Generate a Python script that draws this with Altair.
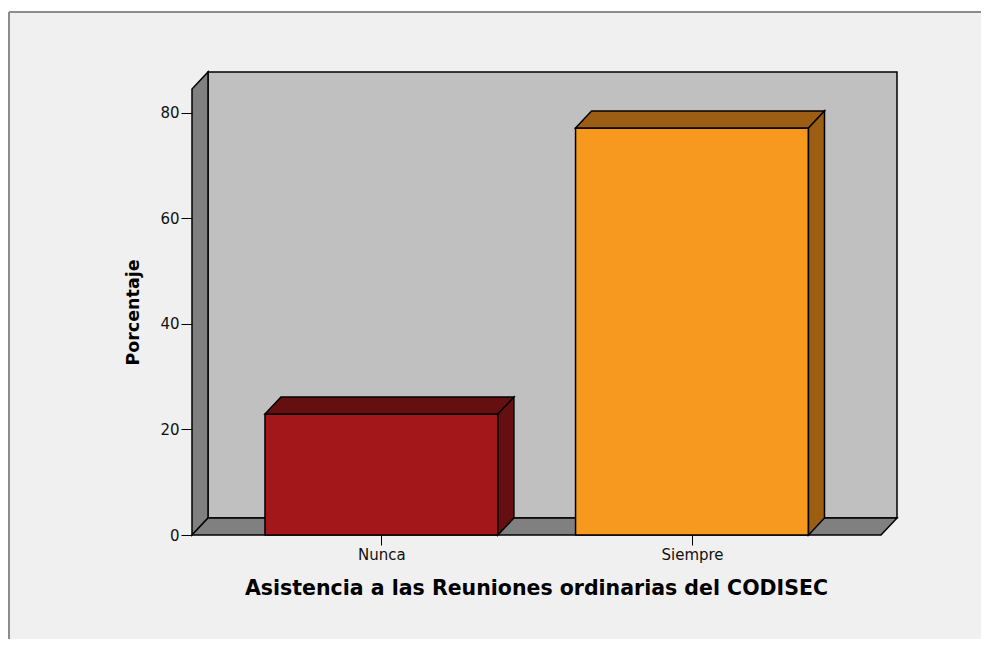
import json
import altair as alt
import pandas as pd

# ---- data ----
cats = ["Nunca", "Siempre"]
pct = [22.9, 77.1]
y_ticks = [0, 20, 40, 60, 80]
front_fill = ["#a3161a", "#f8991f"]
shade_fill = ["#650f11", "#9c5e12"]

# ---- geometry / style constants ----
W, H = 705, 463
X0, X1 = -0.610, 1.660          # x domain in category-index units
PXU = W / (X1 - X0)
YTOP = 87.7                     # y domain top (percentage units)
PYU = H / YTOP
BW = 0.375                      # half bar width (index units)
DX = 16 / PXU                   # depth offset
DY = 17 / PYU
YF = YTOP - DY
SW = 1.5

font = "DejaVu Sans"

wall_rows = []
def add(rows, face, pts, fill):
    for x, lo, hi in pts:
        rows.append(dict(face=face, px=x, lo=lo, hi=hi, col=fill))

add(wall_rows, "a_back", [(X0 + DX, DY, YF + DY), (X1, DY, YF + DY)], "#c0c0c0")
add(wall_rows, "b_left", [(X0, 0, YF), (X0 + DX, DY, YF + DY)], "#808080")
add(wall_rows, "c_floor", [(X0, 0, 0), (X0 + DX, 0, DY), (X1 - DX, 0, DY), (X1, DY, DY)], "#808080")
walls = pd.DataFrame(wall_rows)

front = pd.DataFrame({
    "cat": cats,
    "px": [i - BW for i in range(len(cats))],
    "px2": [i + BW for i in range(len(cats))],
    "v": pct,
    "col": front_fill,
})

shade_rows = []
for i, (c, v) in enumerate(zip(cats, pct)):
    add(shade_rows, f"{c}_top",
        [(i - BW, v, v), (i - BW + DX, v, v + DY), (i + BW, v, v + DY), (i + BW + DX, v + DY, v + DY)],
        shade_fill[i])
    add(shade_rows, f"{c}_side", [(i + BW, 0, v), (i + BW + DX, DY, v + DY)], shade_fill[i])
shades = pd.DataFrame(shade_rows)

xs = alt.Scale(domain=[X0, X1], nice=False, zero=False)
ys = alt.Scale(domain=[0, YTOP], nice=False, zero=False)

x_axis = alt.Axis(
    values=list(range(len(cats))),
    labelExpr=f"{json.dumps(cats)}[datum.value]",
    title="Asistencia a las Reuniones ordinarias del CODISEC",
    tickSize=10, labelPadding=2, domain=False, grid=False, zindex=2,
    labelFont=font, labelFontSize=15, labelColor="#111111", tickColor="black",
    titleFont=font, titleFontSize=20.5, titleFontWeight="bold", titleColor="black",
    titleX=344, titleY=53, titleBaseline="middle",
)
y_axis = alt.Axis(
    values=y_ticks, title="Porcentaje",
    tickSize=11, labelPadding=2, domain=False, grid=False, zindex=2,
    labelFont=font, labelFontSize=15, labelColor="#111111", tickColor="black",
    titleFont=font, titleFontSize=17.5, titleFontWeight="bold", titleColor="black",
    titleX=-59, titleY=240, titleBaseline="middle", titleAngle=270,
)

one = pd.DataFrame({"a": [0]})
frame = alt.Chart(one).mark_rect(fill="#f0f0f0").encode(
    x=alt.value(-183), x2=alt.value(W + 140), y=alt.value(-60), y2=alt.value(H + 160))
frame_top = alt.Chart(one).mark_rule(color="#8c8c8c", strokeWidth=2).encode(
    x=alt.value(-183), x2=alt.value(W + 140), y=alt.value(-60))
frame_left = alt.Chart(one).mark_rule(color="#8c8c8c", strokeWidth=2).encode(
    x=alt.value(-183), y=alt.value(-60), y2=alt.value(H + 160))

wall_layer = alt.Chart(walls).mark_area(
    stroke="black", strokeWidth=SW, interpolate="linear", orient="vertical"
).encode(
    x=alt.X("px:Q", scale=xs, axis=x_axis),
    y=alt.Y("lo:Q", scale=ys, axis=y_axis, stack=None),
    y2="hi:Q",
    detail="face:N",
    fill=alt.Fill("col:N", scale=None),
)

front_layer = alt.Chart(front).mark_rect(stroke="black", strokeWidth=SW).encode(
    x=alt.X("px:Q", scale=xs, axis=x_axis),
    x2="px2:Q",
    y=alt.Y("v:Q", scale=ys, axis=y_axis),
    y2=alt.datum(0),
    fill=alt.Fill("col:N", scale=None),
)

shade_layer = alt.Chart(shades).mark_area(
    stroke="black", strokeWidth=SW, interpolate="linear", orient="vertical"
).encode(
    x=alt.X("px:Q", scale=xs, axis=x_axis),
    y=alt.Y("lo:Q", scale=ys, axis=y_axis, stack=None),
    y2="hi:Q",
    detail="face:N",
    fill=alt.Fill("col:N", scale=None),
)

chart = alt.layer(frame, frame_top, frame_left, wall_layer, front_layer, shade_layer).properties(
    width=W, height=H,
    autosize=alt.AutoSizeParams(type="none"),
    padding={"left": 184, "top": 64, "right": 84, "bottom": 104},
    background="white",
).configure_view(strokeWidth=0)

chart.save("out.html", embed_options={"renderer": "svg", "actions": False})
